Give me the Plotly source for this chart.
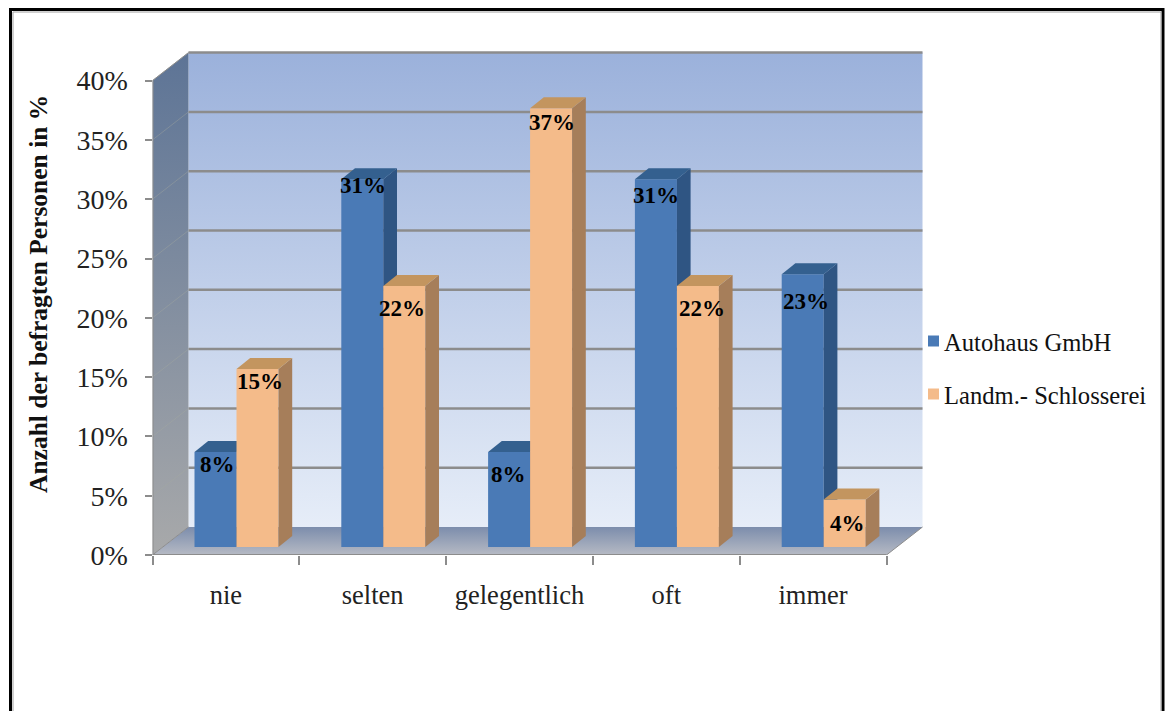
import plotly.graph_objects as go

# Survey results per answer category, in percent
categories = ["nie", "selten", "gelegentlich", "oft", "immer"]
autohaus = [8, 31, 8, 31, 23]
schlosserei = [15, 22, 37, 22, 4]
series_names = ["Autohaus GmbH", "Landm.- Schlosserei"]
y_ticks = [0, 5, 10, 15, 20, 25, 30, 35, 40]
y_title = "Anzahl der befragten Personen in %"

# Chart box geometry: pixels per axis unit and the pseudo-3D depth offsets
W, H = 1165, 711
PX_CAT, PX_PCT = 146.8, 11.86
LEFT, BASE = 152.5, 555
X_MAX, Y_MAX = 5.3, 42.5
WALL_DX, WALL_DY = 36 / PX_CAT, 28 / PX_PCT
BAR_OX, BAR_OY = 10.6 / PX_CAT, 8 / PX_PCT
BAR_DX, BAR_DY = 13.7 / PX_CAT, 11 / PX_PCT
BAR_W = 42 / PX_CAT

BLUE, BLUE_SIDE, BLUE_TOP = "#4a7ab6", "#2f5583", "#34608f"
ORANGE, ORANGE_SIDE, ORANGE_TOP = "#f4bb8a", "#a67e5a", "#c3955f"
AXIS_GREY = "#8c8c8c"
SERIF = "Liberation Serif"

# Pixel nudges (right, up) of the value labels from each bar's top centre
blue_nudges = [(2, -12), (1, -6), (-1, -22), (0, -16), (3, -27)]
orange_nudges = [(2, -12), (-2, -22), (1, -14), (4, -22), (3, -24)]

fig = go.Figure()


def polygon(xs, ys, axes=("x", "y"), color=None, gradient=None):
    fig.add_trace(go.Scatter(
        x=xs + xs[:1], y=ys + ys[:1], mode="lines", line=dict(width=0),
        fill="toself", fillcolor=color, fillgradient=gradient,
        hoverinfo="skip", showlegend=False, xaxis=axes[0], yaxis=axes[1],
    ))


def segment(xs, ys, color, width):
    fig.add_trace(go.Scatter(
        x=xs, y=ys, mode="lines", line=dict(color=color, width=width),
        hoverinfo="skip", showlegend=False,
    ))


def vertical(bottom, top):
    return dict(type="vertical", colorscale=[[0, bottom], [1, top]])


n = len(categories)
top = y_ticks[-1]

# Back wall, side wall and floor
polygon([WALL_DX, n + WALL_DX, n + WALL_DX, WALL_DX],
        [WALL_DY, WALL_DY, top + WALL_DY, top + WALL_DY],
        gradient=vertical("#e6edf8", "#9bb1db"))
polygon([0, WALL_DX, WALL_DX, 0], [0, WALL_DY, top + WALL_DY, top],
        gradient=vertical("#a8a9aa", "#5d7496"))
polygon([0, n, n + WALL_DX, WALL_DX], [0, 0, WALL_DY, WALL_DY],
        gradient=vertical("#b6bac4", "#7c8dac"))

# Gridlines across both walls
for tick in y_ticks[1:]:
    segment([WALL_DX, n + WALL_DX], [tick + WALL_DY] * 2, AXIS_GREY, 2.5)
    segment([0, WALL_DX], [tick, tick + WALL_DY], "rgba(165,170,160,0.4)", 1)

# Axis edges of the box
segment([0, 0], [0, top], AXIS_GREY, 2)
segment([0, n], [0, 0], AXIS_GREY, 2)
segment([0, WALL_DX], [top, top + WALL_DY], AXIS_GREY, 1)
segment([0, WALL_DX], [0, WALL_DY], AXIS_GREY, 1)
segment([n, n + WALL_DX], [0, WALL_DY], AXIS_GREY, 1)


def add_series(values, name, shift, colors, axes):
    front, side, cap = colors
    lefts = [i + 0.5 + shift * BAR_W - BAR_W for i in range(n)]
    fig.add_trace(go.Bar(
        x=[l + BAR_W / 2 for l in lefts], y=values, width=BAR_W, name=name,
        marker=dict(color=front, line=dict(width=0)), showlegend=False,
        xaxis=axes[0], yaxis=axes[1],
    ))
    for l, v in zip(lefts, values):
        r = l + BAR_W
        polygon([r, r + BAR_DX, r + BAR_DX, r], [0, BAR_DY, v + BAR_DY, v],
                axes=axes, color=side)
        polygon([l, r, r + BAR_DX, l + BAR_DX], [v, v, v + BAR_DY, v + BAR_DY],
                axes=axes, color=cap)


# Each series sits on its own overlay axes so orange covers the blue side faces
add_series(autohaus, series_names[0], 0, (BLUE, BLUE_SIDE, BLUE_TOP), ("x2", "y2"))
add_series(schlosserei, series_names[1], 1, (ORANGE, ORANGE_SIDE, ORANGE_TOP), ("x3", "y3"))

x_domain = [LEFT / W, (LEFT + X_MAX * PX_CAT) / W]
y_domain = [(H - BASE) / H, (H - BASE + Y_MAX * PX_PCT) / H]
bar_x_range = [-BAR_OX, X_MAX - BAR_OX]
bar_y_range = [-BAR_OY, Y_MAX - BAR_OY]
overlay_x = dict(range=bar_x_range, overlaying="x", visible=False, anchor="y")
overlay_y = dict(range=bar_y_range, overlaying="y", visible=False, anchor="x")

annotations = []
for values, nudges, shift in ((autohaus, blue_nudges, 0), (schlosserei, orange_nudges, 1)):
    for i, (v, (dx, dy)) in enumerate(zip(values, nudges)):
        annotations.append(dict(
            x=i + 0.5 + (shift - 0.5) * BAR_W, y=v, xref="x3", yref="y3",
            text=f"<b>{v}%</b>", showarrow=False, xshift=dx, yshift=dy,
            font=dict(family=SERIF, size=23, color="#000000"),
        ))

annotations.append(dict(
    x=38 / W, y=1 - 294 / H, xref="paper", yref="paper", text=f"<b>{y_title}</b>",
    textangle=-90, showarrow=False, xanchor="center", yanchor="middle",
    font=dict(family=SERIF, size=25.5, color="#111111"),
))

# Legend entries beside the chart
legend_rows = [(341, series_names[0], BLUE), (394, series_names[1], ORANGE)]
shapes = []
for row_y, label, color in legend_rows:
    shapes.append(dict(type="rect", xref="paper", yref="paper", line=dict(width=0),
                       x0=928 / W, x1=939 / W, y0=1 - (row_y + 5.5) / H, y1=1 - (row_y - 5.5) / H,
                       fillcolor=color))
    annotations.append(dict(
        x=941.5 / W, y=1 - (row_y + 1) / H, xref="paper", yref="paper", text=label,
        xanchor="left", showarrow=False, font=dict(family=SERIF, size=24.6, color="#111111"),
    ))

# Outer frame, cut off by the bottom of the page
shapes.append(dict(type="rect", xref="paper", yref="paper", fillcolor="rgba(0,0,0,0)",
                   x0=10.5 / W, x1=1163 / W, y0=-0.05, y1=1 - 9.5 / H,
                   line=dict(color="#000000", width=3)))
shapes.append(dict(type="rect", xref="paper", yref="paper", fillcolor="rgba(0,0,0,0)",
                   x0=13 / W, x1=1161 / W, y0=-0.05, y1=1 - 12 / H,
                   line=dict(color="#a0a0a0", width=1)))

fig.update_layout(
    width=W, height=H, margin=dict(l=0, r=0, t=0, b=0, autoexpand=False),
    paper_bgcolor="white", plot_bgcolor="rgba(0,0,0,0)", barmode="overlay",
    showlegend=False, annotations=annotations, shapes=shapes,
    xaxis=dict(
        domain=x_domain, range=[0, X_MAX], showgrid=False, zeroline=False, showline=False,
        tickvals=[i + 0.5 for i in range(n)], ticktext=categories, ticks="",
        ticklabelstandoff=21, tickfont=dict(family=SERIF, size=26.5, color="#222222"),
        minor=dict(tickvals=list(range(n + 1)), ticks="outside", ticklen=9,
                   tickwidth=2, tickcolor=AXIS_GREY, showgrid=False),
    ),
    yaxis=dict(
        domain=y_domain, range=[0, Y_MAX], showgrid=False, zeroline=False, showline=False,
        tickvals=y_ticks, ticktext=[f"{t}%" for t in y_ticks], ticks="outside", ticklen=7,
        tickwidth=2, tickcolor=AXIS_GREY, ticklabelstandoff=11,
        tickfont=dict(family=SERIF, size=28, color="#222222"),
    ),
    xaxis2=overlay_x, yaxis2=overlay_y,
    xaxis3={**overlay_x, "anchor": "y3"}, yaxis3={**overlay_y, "anchor": "x3"},
)
fig.layout.xaxis2.anchor = "y2"
fig.layout.yaxis2.anchor = "x2"

fig.write_html("out.html", config=dict(displayModeBar=False))
